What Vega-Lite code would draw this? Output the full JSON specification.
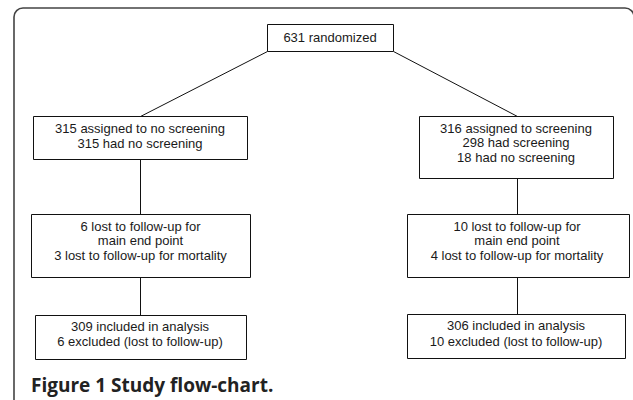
{
  "$schema": "https://vega.github.io/schema/vega-lite/v6.json",
  "width": 633,
  "height": 400,
  "autosize": {"type": "fit", "contains": "padding"},
  "padding": 0,
  "background": "white",
  "config": {"view": {"stroke": null}},
  "datasets": {
    "frame": [{"x1": 14, "x2": 634, "y1": 8, "y2": 440}],
    "boxes": [
      {"id": "top", "x1": 267.5, "x2": 393.5, "y1": 24.5, "y2": 51.5},
      {"id": "L1", "x1": 33.5, "x2": 247.5, "y1": 116.5, "y2": 159.5},
      {"id": "R1", "x1": 419.5, "x2": 613.5, "y1": 116.5, "y2": 178.5},
      {"id": "L2", "x1": 31.5, "x2": 250.5, "y1": 214.5, "y2": 277.5},
      {"id": "R2", "x1": 407.5, "x2": 629.5, "y1": 214.5, "y2": 277.5},
      {"id": "L3", "x1": 35.5, "x2": 246.5, "y1": 315.5, "y2": 359.5},
      {"id": "R3", "x1": 407.5, "x2": 625.5, "y1": 314.5, "y2": 358.5}
    ],
    "links": [
      {"x1": 267.5, "y1": 51.5, "x2": 140.5, "y2": 116.5},
      {"x1": 393.5, "y1": 51.5, "x2": 517.5, "y2": 116.5},
      {"x1": 140.5, "y1": 159.5, "x2": 140.5, "y2": 214.5},
      {"x1": 517.5, "y1": 178.5, "x2": 517.5, "y2": 214.5},
      {"x1": 140.5, "y1": 277.5, "x2": 140.5, "y2": 315.5},
      {"x1": 517.5, "y1": 277.5, "x2": 517.5, "y2": 314.5}
    ],
    "labels": [
      {"x": 330, "y": 37.5, "text": "631 randomized"},
      {"x": 140, "y": 128.5, "text": "315 assigned to no screening"},
      {"x": 140, "y": 143.5, "text": "315 had no screening"},
      {"x": 516, "y": 128.5, "text": "316 assigned to screening"},
      {"x": 516, "y": 143, "text": "298 had screening"},
      {"x": 516, "y": 157.5, "text": "18 had no screening"},
      {"x": 140.5, "y": 226.5, "text": "6 lost to follow-up for"},
      {"x": 140.5, "y": 241, "text": "main end point"},
      {"x": 140.5, "y": 255.5, "text": "3 lost to follow-up for mortality"},
      {"x": 517, "y": 226.5, "text": "10 lost to follow-up for"},
      {"x": 517, "y": 241, "text": "main end point"},
      {"x": 517, "y": 255.5, "text": "4 lost to follow-up for mortality"},
      {"x": 140, "y": 327, "text": "309 included in analysis"},
      {"x": 140, "y": 342, "text": "6 excluded (lost to follow-up)"},
      {"x": 516, "y": 326, "text": "306 included in analysis"},
      {"x": 516, "y": 342, "text": "10 excluded (lost to follow-up)"}
    ],
    "caption": [{"x": 31, "y": 391.5, "text": "Figure 1 Study flow-chart."}]
  },
  "layer": [
    {
      "data": {"name": "frame"},
      "mark": {"type": "rect", "fill": null, "fillOpacity": 0, "stroke": "#444444", "strokeWidth": 1.6, "cornerRadius": 9, "clip": true},
      "encoding": {
        "x": {"field": "x1", "type": "quantitative", "scale": {"domain": [0, 633], "nice": false, "zero": false}, "axis": null},
        "x2": {"field": "x2"},
        "y": {"field": "y1", "type": "quantitative", "scale": {"domain": [0, 400], "nice": false, "zero": false, "reverse": true}, "axis": null},
        "y2": {"field": "y2"}
      }
    },
    {
      "data": {"name": "links"},
      "mark": {"type": "rule", "stroke": "#111111", "strokeWidth": 1},
      "encoding": {
        "x": {"field": "x1", "type": "quantitative", "scale": {"domain": [0, 633], "nice": false, "zero": false}, "axis": null},
        "x2": {"field": "x2"},
        "y": {"field": "y1", "type": "quantitative", "scale": {"domain": [0, 400], "nice": false, "zero": false, "reverse": true}, "axis": null},
        "y2": {"field": "y2"}
      }
    },
    {
      "data": {"name": "boxes"},
      "mark": {"type": "rect", "fill": "white", "stroke": "#111111", "strokeWidth": 1},
      "encoding": {
        "x": {"field": "x1", "type": "quantitative", "scale": {"domain": [0, 633], "nice": false, "zero": false}, "axis": null},
        "x2": {"field": "x2"},
        "y": {"field": "y1", "type": "quantitative", "scale": {"domain": [0, 400], "nice": false, "zero": false, "reverse": true}, "axis": null},
        "y2": {"field": "y2"}
      }
    },
    {
      "data": {"name": "labels"},
      "mark": {"type": "text", "font": "Liberation Sans, Arial, sans-serif", "fontSize": 13, "fill": "#1a1a1a", "align": "center", "baseline": "middle"},
      "encoding": {
        "x": {"field": "x", "type": "quantitative", "scale": {"domain": [0, 633], "nice": false, "zero": false}, "axis": null},
        "y": {"field": "y", "type": "quantitative", "scale": {"domain": [0, 400], "nice": false, "zero": false, "reverse": true}, "axis": null},
        "text": {"field": "text"}
      }
    },
    {
      "data": {"name": "caption"},
      "mark": {"type": "text", "font": "Open Sans", "fontSize": 19, "fontWeight": "bold", "fill": "#222222", "align": "left", "baseline": "alphabetic"},
      "encoding": {
        "x": {"field": "x", "type": "quantitative", "scale": {"domain": [0, 633], "nice": false, "zero": false}, "axis": null},
        "y": {"field": "y", "type": "quantitative", "scale": {"domain": [0, 400], "nice": false, "zero": false, "reverse": true}, "axis": null},
        "text": {"field": "text"}
      }
    }
  ]
}
